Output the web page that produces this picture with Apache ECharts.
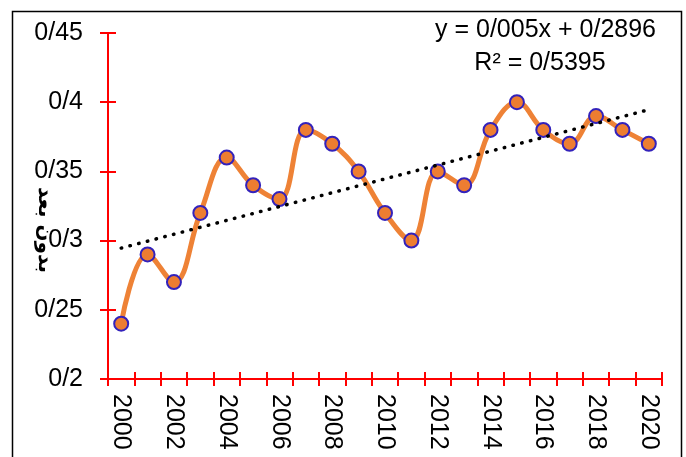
<!DOCTYPE html>
<html>
<head>
<meta charset="utf-8">
<script src="https://cdn.jsdelivr.net/npm/echarts@6/dist/echarts.min.js"></script>
<style>html,body{margin:0;padding:0;background:#fff}#c{width:686px;height:457px}</style>
</head>
<body>
<div id="c"></div>
<script>
const years = ['2000','2001','2002','2003','2004','2005','2006','2007','2008','2009','2010','2011','2012','2013','2014','2015','2016','2017','2018','2019','2020'];
const values = [0.24,0.29,0.27,0.32,0.36,0.34,0.33,0.38,0.37,0.35,0.32,0.30,0.35,0.34,0.38,0.40,0.38,0.37,0.39,0.38,0.37];
const trendEnds = [0.2946, 0.3946];
const equationText = 'y = 0/005x + 0/2896';
const r2Text = 'R² = 0/5395';
const yName = 'بدون بعد';

const chart = echarts.init(document.getElementById('c'));
const fmt = v => String(+v.toFixed(2)).replace('.', '/');
const red = '#FF0000';
const font = 'Liberation Sans, Arial, sans-serif';

chart.setOption({
  animation: false,
  grid: {left: 108, right: 24, top: 33, bottom: 78},
  xAxis: [{
    type: 'category', data: years, boundaryGap: true, position: 'bottom',
    axisLine: {lineStyle: {color: red, width: 2}},
    axisTick: {show: true, interval: 0, length: 7, lineStyle: {color: red, width: 2}},
    axisLabel: {interval: 1, rotate: -90, margin: 15, color: '#000', fontSize: 25, fontFamily: font}
  }, {
    type: 'category', data: years, boundaryGap: true, position: 'bottom',
    axisLine: {show: false},
    axisTick: {show: true, inside: true, interval: 0, length: 7, lineStyle: {color: red, width: 2}},
    axisLabel: {show: false}
  }],
  yAxis: [{
    type: 'value', min: 0.2, max: 0.45, interval: 0.05,
    splitLine: {show: false},
    axisLine: {show: true, lineStyle: {color: red, width: 2}},
    axisTick: {show: true, length: 8, lineStyle: {color: red, width: 2}},
    axisLabel: {formatter: fmt, margin: 25, color: '#000', fontSize: 25, fontFamily: font}
  }, {
    type: 'value', min: 0.2, max: 0.45, interval: 0.05, position: 'left',
    splitLine: {show: false},
    axisLine: {show: false},
    axisTick: {show: true, inside: true, length: 8, lineStyle: {color: red, width: 2}},
    axisLabel: {show: false}
  }],
  series: [{
    type: 'line', data: values, smooth: 0.4,
    lineStyle: {color: '#EE8236', width: 5},
    symbol: 'circle', symbolSize: 14,
    itemStyle: {color: '#ED7D31', borderColor: '#3322BB', borderWidth: 2},
    z: 2
  }, {
    type: 'line', data: [[0, trendEnds[0]], [years.length - 1, trendEnds[1]]],
    symbol: 'none',
    lineStyle: {color: '#000', width: 3.5, type: [0.5, 8.5], cap: 'round'},
    z: 3
  }],
  graphic: [{
    type: 'rect', shape: {x: 12.5, y: 11.5, width: 669, height: 470},
    style: {fill: 'none', stroke: '#000', lineWidth: 1.5}, silent: true
  }, {
    type: 'text', right: 30, top: 18,
    style: {text: equationText, fontSize: 25, fontFamily: font, fill: '#000'}
  }, {
    type: 'text', x: 540, y: 63,
    style: {text: r2Text, fontSize: 25, fontFamily: font, fill: '#000', align: 'center', verticalAlign: 'middle'}
  }, {
    type: 'text', x: 44, y: 230, rotation: -Math.PI / 2, z: 10,
    style: {text: yName, fontSize: 20, fontWeight: 'bold', fontFamily: 'DejaVu Sans, sans-serif', fill: '#000', align: 'center', verticalAlign: 'middle'}
  }]
});
</script>
</body>
</html>
